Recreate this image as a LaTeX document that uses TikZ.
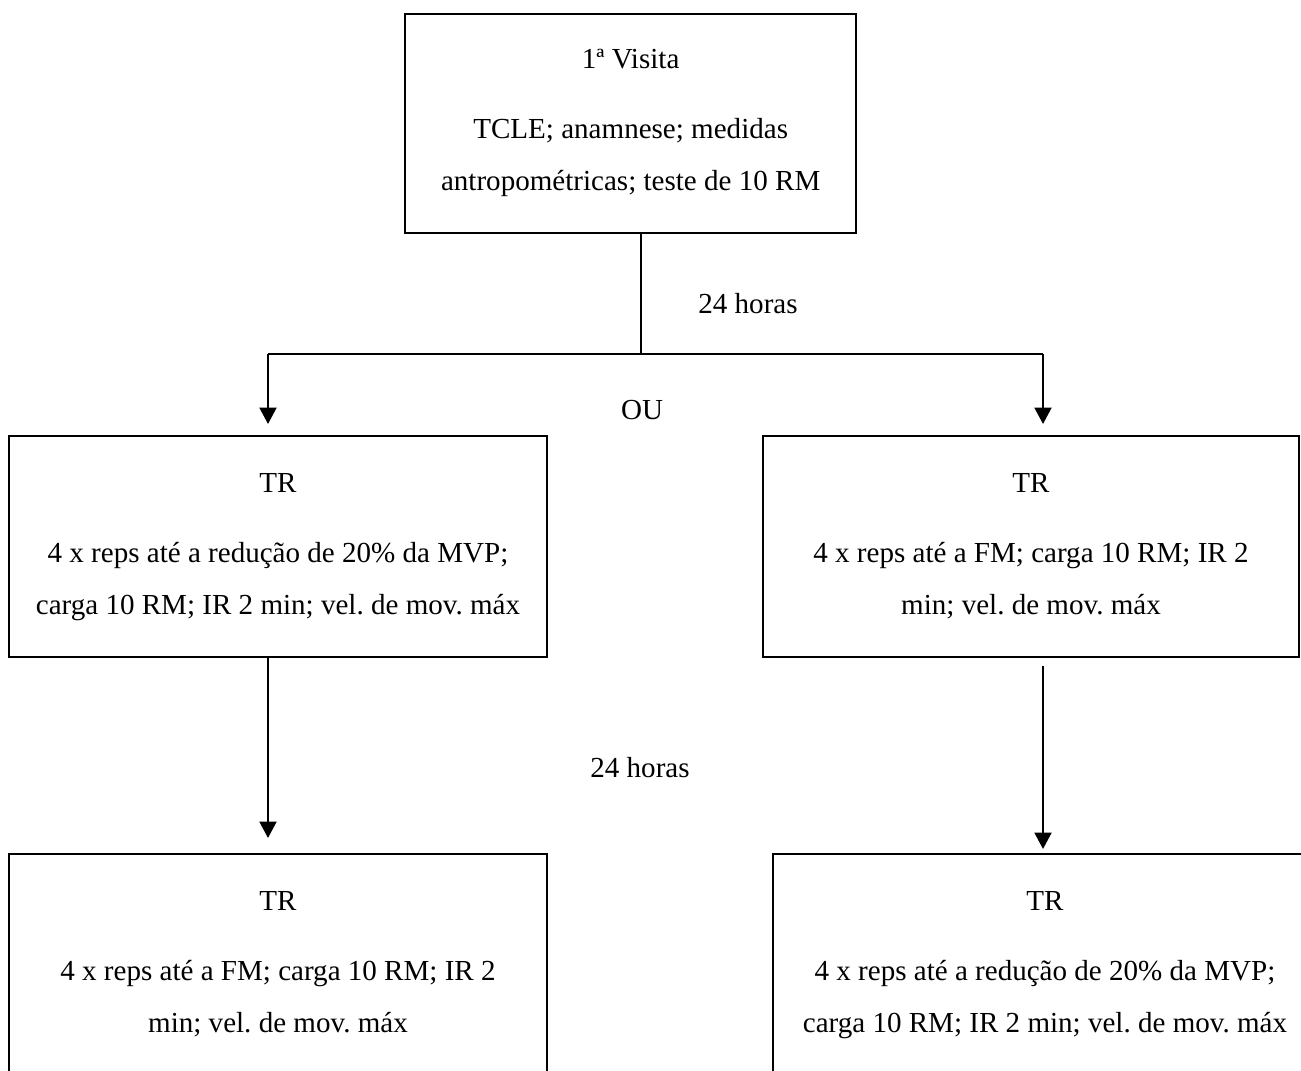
\documentclass[tikz,border=0pt]{standalone}
\usepackage{fontspec}
\setmainfont{Liberation Serif}
\usetikzlibrary{positioning}
\usetikzlibrary{arrows.meta}

\tikzset{
  etapa/.style={draw, line width=1pt, inner sep=0pt, align=center,
    minimum height=3.315cm, font=\fontsize{12.4}{22.2}\selectfont\frenchspacing},
  seta/.style={line width=1pt, -{Triangle[length=7pt,width=7.2pt]}},
  linha/.style={line width=1pt},
  rotulo/.style={font=\fontsize{12.4}{14}\selectfont}
}

\begin{document}
\begin{tikzpicture}
\clip (0,0) rectangle (19.515,-16.05);
\path (9.46,-1.85) node[etapa, minimum width=6.765cm, minimum height=3.285cm] (visita)
  {1ª Visita\\[7.7pt] TCLE; anamnese; medidas\\ antropométricas; teste de 10 RM}
(4.17,-8.2) node[etapa, minimum width=8.07cm] (trA)
  {TR\\[7.7pt] 4 x reps até a redução de 20\% da MVP;\\ carga 10 RM; IR 2 min; vel. de mov. máx}
++(11.295,0) node[etapa, minimum width=8.04cm] (trB)
  {TR\\[7.7pt] 4 x reps até a FM; carga 10 RM; IR 2\\ min; vel. de mov. máx}
(4.17,-14.47) node[etapa, minimum width=8.07cm] (trC)
  {TR\\[7.7pt] 4 x reps até a FM; carga 10 RM; IR 2\\ min; vel. de mov. máx}
++(11.505,0) node[etapa, minimum width=8.16cm] (trD)
  {TR\\[7.7pt] 4 x reps até a redução de 20\% da MVP;\\ carga 10 RM; IR 2 min; vel. de mov. máx}
(9.615,-5.31) coordinate (meio)
(4.02,-5.31) coordinate (esq)
(15.645,-5.31) coordinate (dir);
\path (11.22,-4.56) node[rotulo] (horas1) {24 horas}
(9.63,-6.15) node[rotulo] (ou) {OU}
(9.6,-11.52) node[rotulo] (horas2) {24 horas};
\draw[linha] (visita.south -| meio) -- (meio);
\draw[linha] (esq) -- (dir);
\draw[seta, shorten >=0.165cm] (esq) -- (esq |- trA.north);
\draw[seta, shorten >=0.165cm] (dir) -- (dir |- trB.north);
\draw[seta, shorten >=0.225cm] (esq |- trA.south) -- (esq |- trC.north);
\draw[seta, shorten <=0.12cm, shorten >=0.06cm] (dir |- trB.south) -- (dir |- trD.north);
\end{tikzpicture}
\end{document}
